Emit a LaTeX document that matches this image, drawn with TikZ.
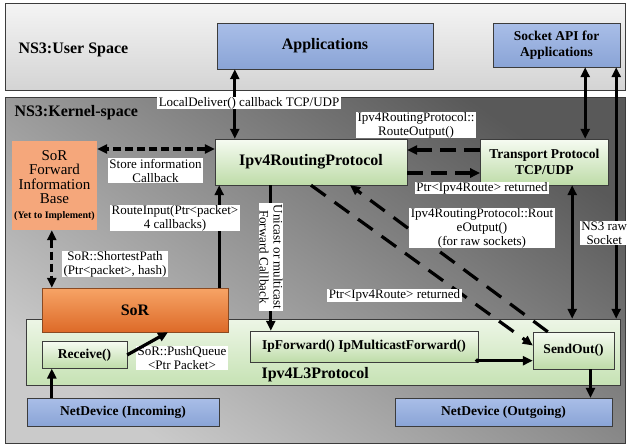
\documentclass[tikz,border=0pt]{standalone}
\usepackage{fontspec}
\setmainfont{Liberation Serif}
\usepackage{tikz}
\usetikzlibrary{calc,positioning,arrows.meta,shadings}
\definecolor{EdgeGray}{HTML}{3C3C3C}
\definecolor{UserTop}{HTML}{F4F4F4}
\definecolor{UserBot}{HTML}{D4D4D4}
\definecolor{KernTop}{HTML}{595959}
\definecolor{KernBot}{HTML}{CACACA}
\definecolor{AppBlueTop}{HTML}{A9BEE8}
\definecolor{AppBlueMid}{HTML}{DDE6F7}
\definecolor{AppBlueBot}{HTML}{8AA4D6}
\definecolor{LeafTop}{HTML}{F6FBF2}
\definecolor{LeafBot}{HTML}{BEDCA8}
\definecolor{LThreeTop}{HTML}{EDF6E6}
\definecolor{LThreeBot}{HTML}{C6E2B4}
\definecolor{SoRTop}{HTML}{F7A466}
\definecolor{SoRBot}{HTML}{DD6A28}
\definecolor{SoREdge}{HTML}{8A4A22}
\definecolor{FibOrange}{HTML}{F5A77B}

\begin{document}
\begin{tikzpicture}[x=1pt, y=-1pt,
    bigtxt/.style={font=\fontsize{16}{18}\selectfont\bfseries},
    midtxt/.style={font=\fontsize{13.5}{15.5}\selectfont\bfseries},
    bluebox/.style={draw=EdgeGray, top color=AppBlueTop, middle color=AppBlueMid, bottom color=AppBlueBot, align=center, inner sep=0pt},
    greenbox/.style={draw=EdgeGray, top color=LeafTop, bottom color=LeafBot, align=center, inner sep=0pt},
    sorbox/.style={draw=SoREdge, top color=SoRTop, bottom color=SoRBot, inner sep=0pt},
    fibbox/.style={fill=FibOrange, align=center, inner sep=0pt, font=\fontsize{15}{14.5}\selectfont},
    lbl/.style={fill=white, inner xsep=1.5pt, inner ysep=0.5pt, align=center, font=\fontsize{13}{14}\selectfont},
    arr/.style={line width=3.2pt, -{Triangle[length=10pt,width=9pt]}},
    biarr/.style={line width=3.2pt, {Triangle[length=10pt,width=9pt]}-{Triangle[length=10pt,width=9pt]}},
    fibarr/.style={biarr, dash pattern=on 8pt off 4pt},
    dasharr/.style={arr, dash pattern=on 16pt off 8pt},
    diagarr/.style={arr, dash pattern=on 18pt off 11pt}]
    \useasboundingbox (0,0) rectangle (627,447);

    % layers
    \node[draw=EdgeGray, top color=UserTop, bottom color=UserBot, minimum width=620pt, minimum height=87pt] (user) at (315,46.5) {};
    \node[draw=EdgeGray, top color=KernTop, bottom color=KernBot, shading angle=-35, minimum width=620pt, minimum height=346pt] (kernel) at (315,270) {};
    \node[bigtxt, anchor=west] (usertitle) at (15,50) {NS3:User Space};
    \node[bigtxt, anchor=west] (kerntitle) at (11,113) {NS3:Kernel-space};
    \node[draw=EdgeGray, top color=LThreeTop, bottom color=LThreeBot, minimum width=594pt, minimum height=66pt] (l3) at (323,352) {};
    \node[bigtxt, anchor=west] (l3title) at (258,375) {Ipv4L3Protocol};

    % boxes
    \node[bluebox, bigtxt, minimum width=216pt, minimum height=46pt] (apps) at (325,46) {Applications};
    \node[bluebox, midtxt, minimum width=127pt, minimum height=44pt] (socket) at (556.5,45) {Socket API for\\Applications};
    \node[greenbox, bigtxt, minimum width=192pt, minimum height=46pt] (routing) at (311,162) {Ipv4RoutingProtocol};
    \node[greenbox, midtxt, minimum width=128pt, minimum height=46pt, right=73pt of routing] (transport) {Transport Protocol\\TCP/UDP};
    \node[fibbox, minimum width=85pt, minimum height=89pt] (fib) at (54.5,185.5) {SoR\\Forward\\Information\\Base\\{\fontsize{10}{11}\selectfont\bfseries (Yet to Implement)}};
    \node[sorbox, bigtxt, minimum width=186pt, minimum height=44pt] (sor) at (135,310) {SoR};
    \node[greenbox, midtxt, minimum width=85pt, minimum height=27pt, below=9pt of sor.south west, anchor=north west] (receive) {Receive()};
    \node[greenbox, midtxt, minimum width=228pt, minimum height=31pt] (ipfwd) at (364,346.5) {IpForward() IpMulticastForward()};
    \node[greenbox, midtxt, minimum width=81pt, minimum height=37pt] (sendout) at (573.5,350.5) {SendOut()};
    \node[bluebox, midtxt, minimum width=192pt, minimum height=28pt] (netin) at (123,412) {NetDevice (Incoming)};
    \node[bluebox, midtxt, minimum width=217pt, minimum height=28pt] (netout) at (503.5,412) {NetDevice (Outgoing)};

    % connectors
    \draw[biarr] ([xshift=20pt]routing.north west) coordinate (ld) -- (ld |- apps.south);
    \draw[biarr] ([xshift=105pt]transport.north west) coordinate (st) -- (st |- socket.south);
    \draw[biarr] ([xshift=-4pt]l3.north east) coordinate (rs) -- (rs |- socket.south)
        node[lbl, pos=0.34, xshift=-12pt] (rawsock) {NS3 raw\\Socket};
    \draw[biarr] ([xshift=92pt]transport.south west) coordinate (tl) -- (tl |- l3.north);
    \draw[fibarr] ([yshift=13pt]routing.west) coordinate (fr) -- (fr -| fib.east);
    \draw[arr] ([xshift=-9pt]sor.north east) coordinate (ri) -- (ri |- routing.south);
    \draw[fibarr] ([xshift=40pt]fib.south west) coordinate (sp) -- (sp |- sor.north);
    \draw[arr] ([xshift=56pt]routing.south west) coordinate (uc) -- (uc |- ipfwd.north);
    \draw[dasharr] ([yshift=12pt]transport.west) -- ([yshift=12pt]routing.east);
    \draw[dasharr] ([yshift=-11pt]routing.east) -- ([yshift=-11pt]transport.west);
    \draw[diagarr] (routing.south) -- ([yshift=5pt]sendout.west)
        node[lbl, pos=0.686, anchor=east] (retlbl) {Ptr<Ipv4Route> returned};
    \draw[diagarr] ([xshift=15pt]sendout.north west) -- ([xshift=39pt]routing.south);
    \draw[arr, {Circle[length=4pt]}-{Triangle[length=10pt,width=9pt]}] ([xshift=-3pt,yshift=1.5pt]ipfwd.south east) coordinate (fw) -- (fw -| sendout.west);
    \draw[arr] ([xshift=25pt]netin.north west) coordinate (ni) -- (ni |- receive.south);
    \draw[arr] ([xshift=17pt]sendout.south) coordinate (so) -- (so |- netout.north);

    % labels
    \node[lbl] (ldlbl) at (249,103) {LocalDeliver() callback TCP/UDP};
    \node[lbl] (storelbl) at (155.5,170.5) {Store information\\Callback};
    \node[lbl] (rilbl) at (175,218) {RouteInput(Ptr<packet>\\4 callbacks)};
    \node[lbl] (splbl) at (115,264) {SoR::ShortestPath\\(Ptr<packet>, hash)};
    \node[lbl, rotate=-90] (uclbl) at (271,257) {Unicast or multicast\\Forward Callback};
    \node[lbl] (rolbl) at (416,125) {Ipv4RoutingProtocol::\\RouteOutput()};
    \node[lbl] (ptrlbl) at (482,188) {Ptr<Ipv4Route> returned};
    \node[lbl] (rawlbl) at (482,228) {Ipv4RoutingProtocol::Rout\\eOutput()\\(for raw sockets)};
    \node[lbl] (pqlbl) at (182,358) {SoR::PushQueue\\<Ptr Packet>};
    \draw[arr] (receive.east) -- ([xshift=33pt]sor.south);
\end{tikzpicture}
\end{document}
